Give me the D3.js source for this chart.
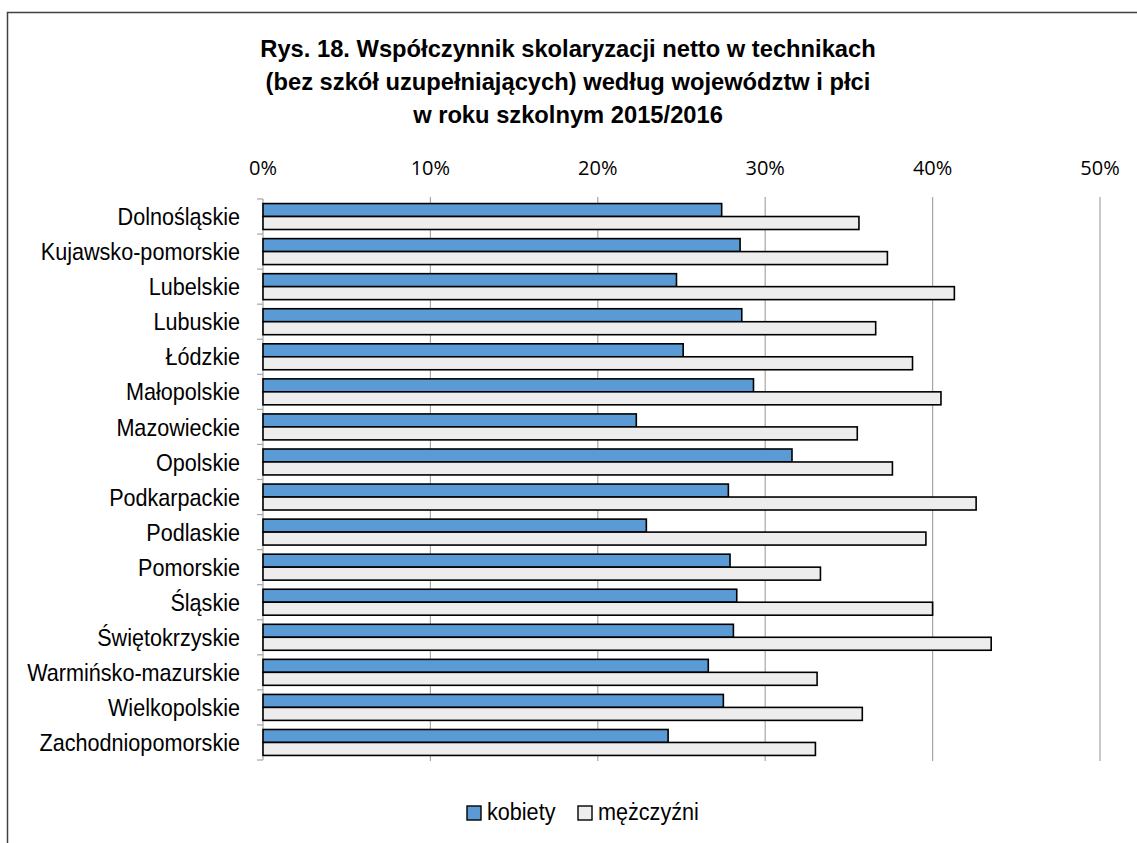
<!DOCTYPE html>
<html>
<head>
<meta charset="utf-8">
<script src="https://cdn.jsdelivr.net/npm/d3@7"></script>
<style>
  body { margin: 0; background: #fff; }
  #chart1 { width: 1137px; height: 843px; }
  .title { font-family: "Liberation Sans", Arial, sans-serif; font-weight: bold; font-size: 23.5px; fill: #000; }
  .cat { font-family: "Liberation Sans", Arial, sans-serif; font-size: 24px; fill: #000; }
  .tick-lbl { font-family: "Open Sans", sans-serif; font-size: 20px; fill: #000; }
  .legend-lbl { font-family: "Liberation Sans", Arial, sans-serif; font-size: 24px; fill: #000; }
</style>
</head>
<body>
<div id="chart1"></div>
<script>

// voivodeships, top to bottom
var regions = ["Dolnośląskie", "Kujawsko-pomorskie", "Lubelskie", "Lubuskie", "Łódzkie",
    "Małopolskie", "Mazowieckie", "Opolskie", "Podkarpackie", "Podlaskie", "Pomorskie",
    "Śląskie", "Świętokrzyskie", "Warmińsko-mazurskie", "Wielkopolskie", "Zachodniopomorskie"];

// net enrolment rate, %
var kobiety = [27.4, 28.5, 24.7, 28.6, 25.1, 29.3, 22.3, 31.6, 27.8, 22.9, 27.9, 28.3, 28.1, 26.6, 27.5, 24.2];
var mezczyzni = [35.6, 37.3, 41.3, 36.6, 38.8, 40.5, 35.5, 37.6, 42.6, 39.6, 33.3, 40.0, 43.5, 33.1, 35.8, 33.0];

var xTicks = [0, 10, 20, 30, 40, 50];
var seriesNames = ["kobiety", "mężczyźni"];
var seriesColors = ["#5b9bd5", "#ededed"];

var titleLines = [
    "Rys. 18. Współczynnik skolaryzacji netto w technikach",
    "(bez szkół uzupełniających) według województw i płci",
    "w roku szkolnym 2015/2016"
];

var width = 1137, height = 843;
var narrow = 0.9;   // labels in the original are a condensed face

var svg = d3.select("#chart1")
    .append("svg")
    .attr("width", width)
    .attr("height", height);

// outer frame (runs off the right and bottom edges)
svg.append("rect")
    .attr("x", 7.5)
    .attr("y", 12.5)
    .attr("width", width + 10)
    .attr("height", height + 10)
    .attr("fill", "none")
    .attr("stroke", "#404040")
    .attr("stroke-width", 1.5);

svg.selectAll("text.title")
    .data(titleLines)
    .enter().append("text")
        .attr("class", "title")
        .attr("transform", function(d, i) { return "translate(568," + (57 + i * 33) + ") scale(1.01,1.05)"; })
        .attr("text-anchor", "middle")
        .text(function(d) { return d; });

var x = d3.scaleLinear()
    .domain([0, 50])
    .range([263, 1100]);

var y = d3.scaleBand()
    .domain(regions)
    .range([199, 760])
    .paddingInner(0.26)
    .paddingOuter(0.13);

var ySub = d3.scaleBand()
    .domain(seriesNames)
    .range([0, y.bandwidth()]);

// gridlines
svg.selectAll("line.grid")
    .data(xTicks.slice(1))
    .enter().append("line")
        .attr("class", "grid")
        .attr("x1", function(d) { return x(d); })
        .attr("x2", function(d) { return x(d); })
        .attr("y1", 197)
        .attr("y2", 761)
        .attr("stroke", "#a6a6a6")
        .attr("stroke-width", 1.2);

svg.selectAll("text.tick-lbl")
    .data(xTicks)
    .enter().append("text")
        .attr("class", "tick-lbl")
        .attr("x", function(d) { return x(d); })
        .attr("y", 175)
        .attr("text-anchor", "middle")
        .text(function(d) { return d + "%"; });

// left axis line and category boundary ticks
svg.append("line")
    .attr("x1", x(0)).attr("x2", x(0))
    .attr("y1", 199).attr("y2", 760)
    .attr("stroke", "#a6a6a6")
    .attr("stroke-width", 1.2);

var bounds = d3.range(regions.length + 1).map(function(i) { return 199 + i * y.step(); });
svg.selectAll("line.ytick")
    .data(bounds)
    .enter().append("line")
        .attr("class", "ytick")
        .attr("x1", x(0) - 6).attr("x2", x(0))
        .attr("y1", function(d) { return d; })
        .attr("y2", function(d) { return d; })
        .attr("stroke", "#a6a6a6")
        .attr("stroke-width", 1.2);

svg.selectAll("text.cat")
    .data(regions)
    .enter().append("text")
        .attr("class", "cat")
        .attr("transform", function(d) {
            return "translate(240," + (y(d) + y.bandwidth() / 2) + ") scale(" + narrow + ",1)";
        })
        .attr("dy", "0.36em")
        .attr("text-anchor", "end")
        .text(function(d) { return d; });

var rows = regions.map(function(r, i) {
    return [
        { region: r, series: seriesNames[0], value: kobiety[i], color: seriesColors[0] },
        { region: r, series: seriesNames[1], value: mezczyzni[i], color: seriesColors[1] }
    ];
});

svg.selectAll("rect.bar")
    .data(d3.merge(rows))
    .enter().append("rect")
        .attr("class", "bar")
        .attr("x", x(0))
        .attr("y", function(d) { return y(d.region) + ySub(d.series); })
        .attr("width", function(d) { return x(d.value) - x(0); })
        .attr("height", ySub.bandwidth())
        .attr("fill", function(d) { return d.color; })
        .attr("stroke", "#000")
        .attr("stroke-width", 1.6);

// legend
var legend = svg.append("g")
    .attr("transform", "translate(0,813)");

var legendX = [467, 578];
seriesNames.forEach(function(name, i) {
    legend.append("rect")
        .attr("x", legendX[i])
        .attr("y", -7)
        .attr("width", 14)
        .attr("height", 14)
        .attr("fill", seriesColors[i])
        .attr("stroke", "#000")
        .attr("stroke-width", 1.4);
    legend.append("text")
        .attr("class", "legend-lbl")
        .attr("transform", "translate(" + (legendX[i] + 20) + ",7) scale(" + narrow + ",1)")
        .text(name);
});

</script>
</body>
</html>
